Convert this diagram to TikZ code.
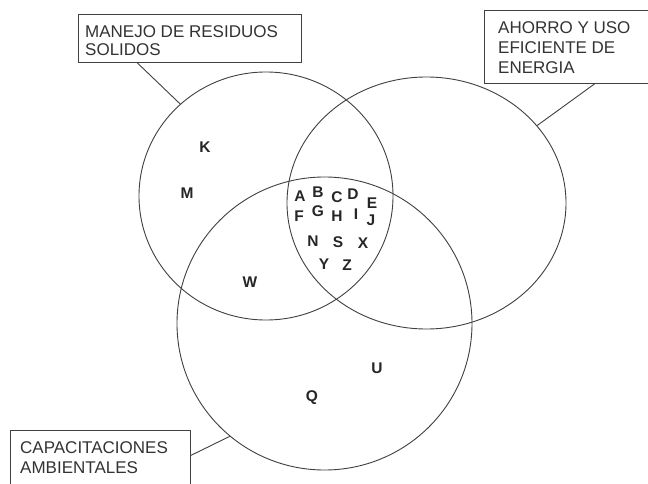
\documentclass[tikz,border=0pt]{standalone}
\usepackage{fontspec}
\setmainfont{Liberation Sans}
\usetikzlibrary{shapes.geometric,calc}
\begin{document}
\begin{tikzpicture}[x=1pt,y=-1pt,
  ring/.style={draw=black!75, line width=0.9pt, ellipse, inner sep=0pt},
  lbox/.style={draw=black!75, line width=0.9pt, rectangle, inner sep=0pt, anchor=north west},
  ltext/.style={anchor=north west, inner sep=0pt, align=left, text=black!80},
  elem/.style={font=\bfseries\fontsize{15.5}{15.5}\selectfont, text=black!85, inner sep=0pt},
  conn/.style={draw=black!75, line width=0.9pt}]
\useasboundingbox (0,0) rectangle (648,484);
\fill[white] (0,0) rectangle (648,484);
\clip (0,0) rectangle (648,484);

% sets
\node[ring, minimum width=254pt, minimum height=248pt] (c1) at (266,196) {};
\node[ring, minimum width=279pt, minimum height=252pt] (c2) at (426.5,203) {};
\node[ring, minimum width=295pt, minimum height=293pt] (c3) at (324.5,323.5) {};

% label boxes
\node[lbox, minimum width=223pt, minimum height=48pt] (b1) at (78,14) {};
\node[lbox, minimum width=176pt, minimum height=73pt] (b2) at (484,10) {};
\node[lbox, minimum width=180pt, minimum height=65pt] (b3) at (10,430) {};

\node[ltext, font=\fontsize{17}{18.5}\selectfont] (t1) at (85,25.2) {MANEJO DE RESIDUOS\\SOLIDOS};
\node[ltext, font=\fontsize{17}{20}\selectfont] (t2) at (498,21.7) {AHORRO Y USO\\EFICIENTE DE\\ENERGIA};
\node[ltext, font=\fontsize{17}{20}\selectfont] (t3) at (20,441.7) {CAPACITACIONES\\AMBIENTALES};

% connectors
\draw[conn] ($(b1.south west)!0.265!(b1.south east)$) -- (c1.133);
\draw[conn] ($(b2.south west)!0.625!(b2.south east)$) -- (c2.35);
\draw[conn] ($(b3.north east)!0.385!(b3.south east)$) -- (c3.230);

% elements
\node[elem] (eK) at (205,147) {K};
\node[elem] (eM) at (187,193) {M};
\node[elem] (eA) at (300,196) {A};
\node[elem] (eB) at (318,192) {B};
\node[elem] (eC) at (337,197) {C};
\node[elem] (eD) at (353,194) {D};
\node[elem] (eE) at (372,203) {E};
\node[elem] (eF) at (299,216) {F};
\node[elem] (eG) at (318,211) {G};
\node[elem] (eH) at (337,216) {H};
\node[elem] (eI) at (356,214) {I};
\node[elem] (eJ) at (371,220) {J};
\node[elem] (eN) at (313,241) {N};
\node[elem] (eS) at (338,242) {S};
\node[elem] (eX) at (363,243) {X};
\node[elem] (eY) at (324,264) {Y};
\node[elem] (eZ) at (347,265) {Z};
\node[elem] (eW) at (250,282) {W};
\node[elem] (eU) at (377,368) {U};
\node[elem] (eQ) at (312,398) {Q};
\end{tikzpicture}
\end{document}
